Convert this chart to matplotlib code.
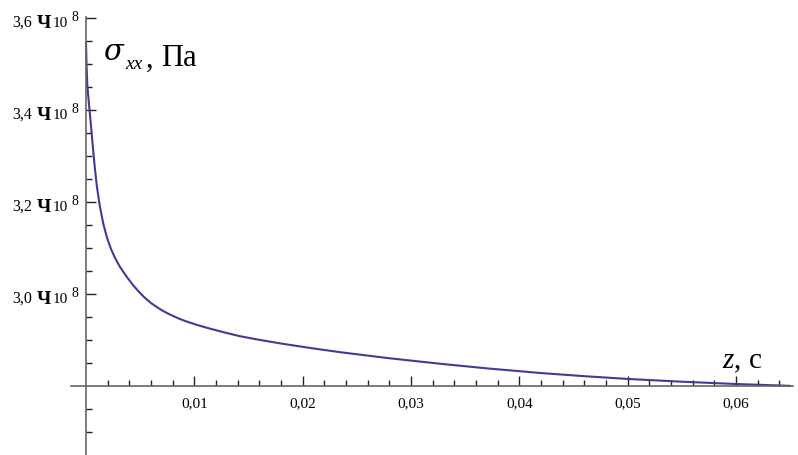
import matplotlib
matplotlib.use('Agg')
import matplotlib.pyplot as plt
from matplotlib.ticker import FixedLocator
from matplotlib.transforms import offset_copy

plt.rcParams['font.family'] = ['Liberation Serif', 'DejaVu Serif']
plt.rcParams['mathtext.fontset'] = 'custom'
plt.rcParams['mathtext.rm'] = 'Liberation Serif'
plt.rcParams['mathtext.it'] = 'Liberation Serif:italic'
plt.rcParams['mathtext.bf'] = 'Liberation Serif:bold'

# z, c  and  sigma_xx in units of 10^8 Pa
z = [0.0, 0.00005, 0.00012, 0.00025, 0.0004, 0.00053, 0.0007, 0.00083, 0.001,
     0.00129, 0.0016, 0.00194, 0.0023, 0.00268, 0.0031, 0.0037, 0.00434,
     0.0049, 0.00545, 0.006, 0.00655, 0.0071, 0.00775, 0.0085, 0.00914,
     0.0103, 0.0115, 0.0128, 0.0142, 0.016, 0.018, 0.0205, 0.0235, 0.028,
     0.0327, 0.037, 0.0419, 0.046, 0.05, 0.055, 0.06, 0.065]
sigma = [3.548, 3.500, 3.455, 3.420, 3.382, 3.348, 3.303, 3.272, 3.235,
         3.190, 3.153, 3.123, 3.099, 3.079, 3.061, 3.040, 3.020,
         3.005, 2.992, 2.981, 2.972, 2.964, 2.956, 2.948, 2.942,
         2.933, 2.925, 2.917, 2.909, 2.901, 2.893, 2.884, 2.874, 2.861,
         2.849, 2.839, 2.829, 2.822, 2.816, 2.810, 2.805, 2.801]

xticks = [0.01, 0.02, 0.03, 0.04, 0.05, 0.06]
xticklabels = ['0,01', '0,02', '0,03', '0,04', '0,05', '0,06']
yticks = [3.0, 3.2, 3.4, 3.6]
yticknums = ['3,0', '3,2', '3,4', '3,6']
y_origin = 2.8

fig = plt.figure(figsize=(7.98, 4.56), dpi=100)
ax = fig.add_axes([0, 0, 1, 1])
ax.patch.set_alpha(0)

ax.plot(z, sigma, color='#3d3d99', linewidth=1.5, solid_capstyle='round', solid_joinstyle='round')

# pixel mapping: origin at (86, 387.3), 10833 px per unit z, 460 px per 1e8
ax.set_xlim(-86 / 10833, (798 - 86) / 10833)
ax.set_ylim(y_origin - (456 - 387.3) / 460, y_origin + 387.3 / 460)

for s in ['top', 'right']:
    ax.spines[s].set_visible(False)
ax.spines['left'].set_position(('data', 0))
ax.spines['bottom'].set_position(('data', y_origin))
ax.spines['left'].set_bounds(y_origin - (456 - 387.3) / 460, 3.603)
ax.spines['bottom'].set_bounds(-15 / 10833, 0.0653)
for s in ['left', 'bottom']:
    ax.spines[s].set_color('#666666')
    ax.spines[s].set_linewidth(1.2)

ax.set_xticks(xticks)
ax.set_xticklabels(xticklabels)
ax.xaxis.set_minor_locator(FixedLocator([i * 0.002 for i in range(1, 33) if i % 5 != 0]))
ax.set_yticks(yticks)
ax.yaxis.set_minor_locator(FixedLocator([2.70, 2.75, 2.85, 2.90, 2.95, 3.05, 3.10, 3.15,
                                         3.25, 3.30, 3.35, 3.45, 3.50, 3.55]))

ax.tick_params(which='both', direction='in', color='#222222', width=1.0)
ax.tick_params(which='major', length=7)
ax.tick_params(which='minor', length=4.5)
ax.tick_params(axis='x', which='major', labelsize=11, pad=7)
ax.tick_params(axis='y', labelleft=False)

# y tick labels like "3,6 Ч10^8", built from pieces
for t, num in zip(yticks, yticknums):
    pieces = [(num, 54.3, -7.5, 11.5, 'normal'),
              ('Ч', 34.5, -9, 14, 'bold'),
              ('10', 17.7, -7.5, 11, 'normal'),
              ('8', 7.5, -1.5, 10, 'normal')]
    for s, dx, dy, fs, fw in pieces:
        tr = offset_copy(ax.transData, fig=fig, x=-dx, y=dy, units='dots')
        ax.text(0, t, s, transform=tr, fontsize=fs, fontweight=fw, ha='right', va='baseline')

# axis labels
fig.text(103 / 798, 1 - 60.5 / 456, 'σ', fontsize=21, style='italic', family='DejaVu Serif',
         ha='left', va='baseline')
fig.text(125 / 798, 1 - 69 / 456, 'xx', fontsize=14, style='italic', ha='left', va='baseline')
fig.text(146 / 798, 1 - 66.5 / 456, ',', fontsize=22, ha='left', va='baseline')
fig.text(161 / 798, 1 - 66.5 / 456, 'Па', fontsize=22, ha='left', va='baseline')
fig.text(722 / 798, 1 - 368 / 456, r'$z$, c', fontsize=21, ha='left', va='baseline')

fig.savefig('out.png', dpi=100)
